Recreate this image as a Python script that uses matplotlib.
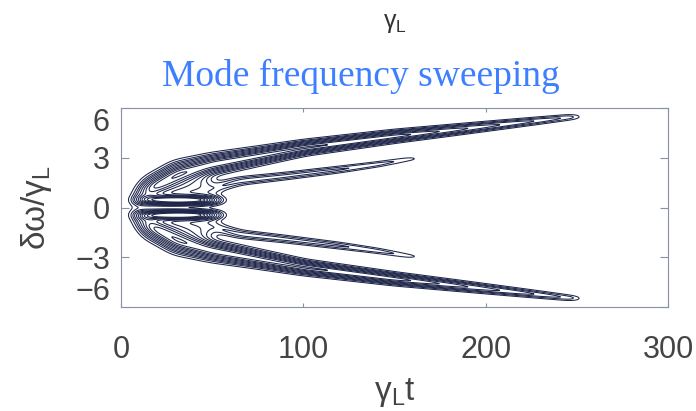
import numpy as np
import matplotlib
matplotlib.use("Agg")
import matplotlib.pyplot as plt

# ridge lines (gamma_L t, delta omega / gamma_L)
t_outer = [8, 15, 30, 50, 75, 100, 150, 200, 250]
w_outer = [0.3, 1.1, 2.0, 2.6, 3.1, 3.6, 4.3, 4.9, 5.5]
a_outer = [0.3, 0.8, 1.1, 1.2, 1.15, 1.1, 1.0, 0.55, 0.2]
s_outer = [0.4, 0.5, 0.55, 0.45, 0.38, 0.32, 0.27, 0.22, 0.16]

t_inner = [48, 55, 65, 90, 120, 140, 162]
w_inner = [0.8, 1.3, 1.6, 1.9, 2.3, 2.6, 3.0]
a_inner = [0.0, 0.3, 0.32, 0.3, 0.28, 0.24, 0.12]
s_inner = [0.3, 0.25, 0.22, 0.2, 0.18, 0.15, 0.12]

t_core = [8, 15, 25, 35, 45, 52, 56]
w_core = [0.45, 0.45, 0.45, 0.45, 0.45, 0.45, 0.45]
a_core = [0.0, 1.0, 1.5, 1.6, 1.3, 0.5, 0.0]
s_core = [0.25, 0.25, 0.25, 0.25, 0.25, 0.25, 0.25]

t_blob = [8, 15, 30, 45, 55]
w_blob = [0.6, 1.0, 1.3, 1.3, 1.1]
a_blob = [0.0, 0.35, 0.45, 0.35, 0.0]
s_blob = [0.5, 0.7, 0.8, 0.7, 0.5]

xticks = [0, 100, 200, 300]
yticks = [-6, -3, 0, 3, 6]

t = np.linspace(0, 300, 900)
w = np.linspace(-6.5, 6.5, 800)
T, W = np.meshgrid(t, w)

def ridge(tp, wp, ap, sp):
    c = np.interp(t, tp, wp)
    a = np.interp(t, tp, ap, left=0, right=0)
    s = np.interp(t, tp, sp)
    z = a * np.exp(-((W - c) / s) ** 2)
    z += a * np.exp(-((W + c) / s) ** 2)
    return z

Z = ridge(t_outer, w_outer, a_outer, s_outer)
Z += ridge(t_inner, w_inner, a_inner, s_inner)
Z += ridge(t_core, w_core, a_core, s_core)
Z += ridge(t_blob, w_blob, a_blob, s_blob)

# smooth along time so the piecewise ridges bend gently
k = np.exp(-0.5 * (np.arange(-30, 31) / 10.0) ** 2)
k /= k.sum()
Z = np.apply_along_axis(lambda r: np.convolve(r, k, mode='same'), 1, Z)

plt.rcParams['font.family'] = ['Liberation Sans', 'DejaVu Sans']
fig = plt.figure(figsize=(6.96, 4.11), dpi=100)
ax = fig.add_axes([0.174, 0.253, 0.786, 0.484])

levels = [0.08, 0.16, 0.25, 0.35, 0.48, 0.62, 0.76, 0.9, 1.05, 1.2, 1.35]
ax.contour(T, W, Z, levels=levels, colors='#1c2448', linewidths=0.75)

ax.set_xlim(0, 300)
ax.set_ylim(-6, 6)
ax.set_xticks(xticks)
ax.set_yticks(yticks)
ax.tick_params(direction='in', top=True, right=True, labelsize=22,
               colors='#8890a8', labelcolor='#444444', width=0.8)
ax.tick_params(axis='y', length=6, pad=8)
ax.tick_params(axis='x', length=3, pad=20)
for sp in ax.spines.values():
    sp.set_color('#8890a8')
    sp.set_linewidth(0.8)

ylabs = ax.get_yticklabels()
ylabs[0].set_va('bottom')
ylabs[-1].set_va('top')

ax.set_xlabel('γ$_{\\mathregular{L}}$t', fontsize=24, color='#444444', labelpad=8)
ax.set_ylabel('δω/γ$_{\\mathregular{L}}$', fontsize=24, color='#444444', labelpad=15)

fig.text(0.519, 0.815, 'Mode frequency sweeping', ha='center', va='center',
         fontsize=27, color='#3d7fff', family='Liberation Serif')
fig.text(0.568, 1 - 28 / 411, 'γ$_{\\mathregular{L}}$', ha='center', va='baseline',
         fontsize=18, color='#333333')

fig.savefig('out.png', dpi=100)
